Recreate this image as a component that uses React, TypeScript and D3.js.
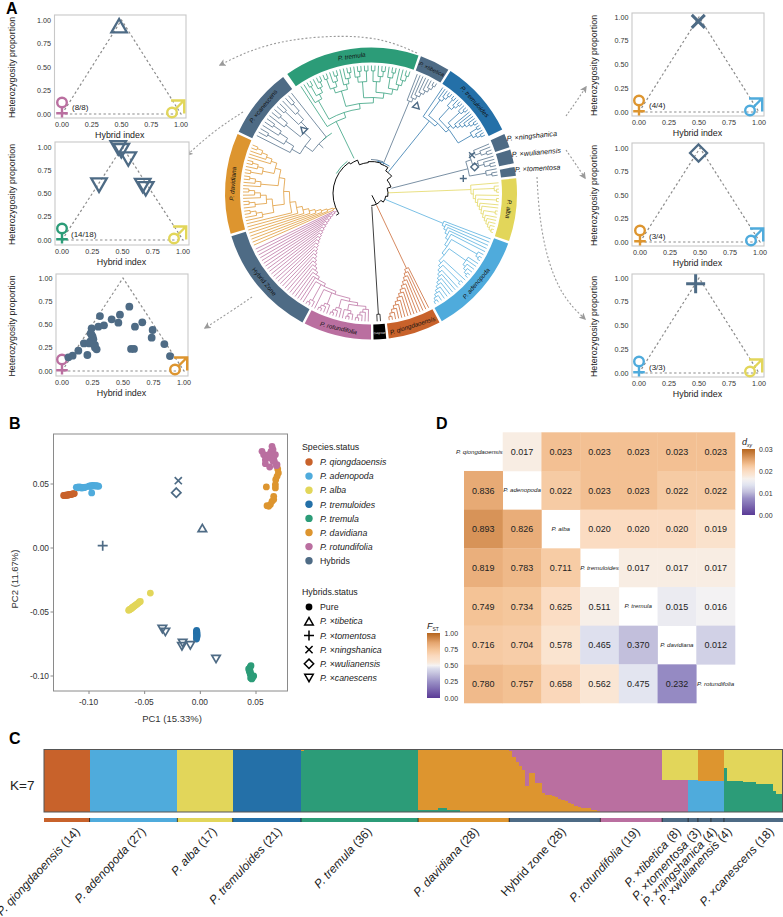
import React from "react";
import * as d3 from "d3";

const FONT = "'Liberation Sans', Arial, sans-serif";
const C = {
  qiong: "#c8622b", aden: "#4fabdc", alba: "#e2d65a", tmd: "#2470a8", tml: "#2c9c78",
  dav: "#dd952f", rot: "#ba6fa0", hyb: "#4e6b85", black: "#000000",
};
const DASH = "#8c8c8c";

/* ---------- Panel A triangle plots ---------- */
const triangleEdge = [[0, 0], [0.5, 1], [1, 0], [0, 0]];
const axisTicks = [0, 0.25, 0.5, 0.75, 1];
const hzPoints = [
  [.052,.147],[.087,.165],[.134,.219],[.18,.297],[.208,.172],[.23,.315],[.243,.459],[.243,.387],[.257,.341],[.27,.28],
  [.284,.233],[.224,.297],[.311,.591],[.298,.477],[.344,.491],[.407,.556],[.475,.606],[.462,.52],[.552,.692],[.598,.477],
  [.658,.523],[.743,.441],[.735,.358],[.566,.237],[.59,.237],[.839,.29],[.885,.161],[.251,.369],[.235,.405],[.27,.254],
];
const canescensPts = [[.465,.99],[.49,.96],[.548,.87],[.306,.59],[.667,.586],[.692,.55]];
const triPanels = [
  { fx: [54.5,186], fy: [15,118], x: [62,181], y: [114,20], fem: C.rot, male: C.alba, label: "(8/8)", lx: 72, ly: 110, kind: "up", pts: [[.48,.94]] },
  { fx: [55,189], fy: [142,245], x: [62,183], y: [240,147], fem: C.tml, male: C.alba, label: "(14/18)", lx: 71, ly: 237, kind: "down", pts: canescensPts },
  { fx: [56,188], fy: [274,376], x: [62,184], y: [371,278], fem: C.rot, male: C.dav, label: "", lx: 0, ly: 0, kind: "dot", pts: hzPoints },
  { fx: [632,764], fy: [13,116], x: [639,759], y: [112,17], fem: C.dav, male: C.aden, label: "(4/4)", lx: 649, ly: 108, kind: "cross", pts: [[.494,.954]] },
  { fx: [632,764], fy: [143,246], x: [640,760], y: [242,148], fem: C.dav, male: C.aden, label: "(3/4)", lx: 649, ly: 239, kind: "diamond", pts: [[.488,.947]] },
  { fx: [632,764], fy: [274,377], x: [639,759], y: [373,278], fem: C.aden, male: C.alba, label: "(3/3)", lx: 649, ly: 370, kind: "plus", pts: [[.472,.94]] },
];

/* ---------- Panel A tree ---------- */
const CX = 371, CY = 193.5, R_IN = 131, R_OUT = 146, TIP = 128;
const ringSegments = [
  { name: "P. tremula", a0: -35, a1: 19, color: C.tml, lr: 138.5, rot: 0 },
  { name: "P. ×tibetica", a0: 20, a1: 32, color: C.hyb, lr: 138.5, rot: 0, fs: 5.6 },
  { name: "P. tremuloides", a0: 33, a1: 64, color: C.tmd, lr: 138.5, rot: 0 },
  { name: "P. alba", a0: 84, a1: 109, color: C.alba, lr: 138.5, rot: 0 },
  { name: "P. adenopoda", a0: 110, a1: 151, color: C.aden, lr: 138.5, rot: 180 },
  { name: "P. qiongdaoensis", a0: 152, a1: 173, color: C.qiong, lr: 138.5, rot: 180 },
  { name: "Outgroup", a0: 174, a1: 179, color: C.black, lr: 138.5, rot: 180, fs: 2.8, fill: "#fff" },
  { name: "P. rotundifolia", a0: 180, a1: 207, color: C.rot, lr: 138.5, rot: 180 },
  { name: "Hybrid Zone", a0: 208, a1: 253, color: C.hyb, lr: 138.5, rot: 180 },
  { name: "P. davidiana", a0: 254, a1: 294, color: C.dav, lr: 138.5, rot: 0 },
  { name: "P. ×canescens", a0: 295, a1: 323, color: C.hyb, lr: 138.5, rot: 0 },
];
const ringBlocks = [
  { name: "P. ×ningshanica", a0: 66, a1: 71.5, lx: 507, ly: 141, rot: -6 },
  { name: "P. ×wulianensis", a0: 72.5, a1: 78, lx: 512, ly: 157, rot: -5 },
  { name: "P. ×tomentosa", a0: 79.5, a1: 83, lx: 515, ly: 172, rot: -3 },
];
const clades = [
  { color: C.tml, a0: -34, a1: 18.5, rootR: 80, stem: 39,
    tree: "(.((.((..)(.(..))))((((..)(.(..)))(.(.(..))))(((.(..))(..))(((..)(.(..)))((.(..))(.(.(..))))))))" },
  { color: C.hyb, a0: 20.5, a1: 31.5, rootR: 100, stem: 31, tree: "(.(.(.(.(.(.(..)))))))" },
  { color: C.tmd, a0: 33.5, a1: 63.5, rootR: 93, stem: 28, tree: "(.((.(.(..)))(((..)(.(..)))((.(..))(.(.(.(.(..))))))((..)(.(..))))))" },
  { color: C.hyb, a0: 66.5, a1: 82.5, rootR: 100, stem: 21, tree: "(((.(.(..)))(.(.(..))))(.(..)))" },
  { color: C.alba, a0: 84.5, a1: 108.5, rootR: 100, stem: 17, tree: "(.((.(..))(.((..)(.(.((..)(.(.(.(.(..))))))))))))" },
  { color: C.aden, a0: 110, a1: 150.5, rootR: 78, stem: 15, tree: "(.(.(.(.(.((.(..))((..(.(.(..))))(.((..)(.(.(.(.(.(.(.(..))))))))))))))))" },
  { color: C.qiong, a0: 152.5, a1: 172.5, rootR: 83, stem: 13, tree: "(.(.(.(.(.(.(.(.(.(.(.(.(..)))))))))))))" },
  { color: C.black, a0: 175, a1: 178, rootR: 121, stem: 13, tree: "(..)" },
  { color: C.rot, a0: 180.5, a1: 245, rootR: 41, stem: 38,
    tree: "((((((((((((((((((((((((((.(.(.(..))))((.(..)).))(.(.(..))))(.(.(..))).)(.(..)).)..).).).).).).).).).).).).).).).).).).).).).).).).)" },
  { color: C.dav, a0: 245.5, a1: 293, rootR: 41, stem: 38,
    tree: "(.(.(.(.(.(.(.(.(((.(.(..)))((.(..))(.(.(..)))))((.(.(..)))(((..)(.(..)))(.(.(.(..)))))))))))))))" },
  { color: C.hyb, a0: 296, a1: 322.5, rootR: 72, stem: 66, tree: "(((.((..)(.(..))))((.(..))((..)(.(..))))).)" },
];
const backboneChains = [
  [[153,2],[153,12],[178,12]],
  [[153,12],[125,12],[125,15],[100,15],[100,17],[72,17],[72,21],[50,21],[50,27],[33,27],[33,31],[18,31],[18,32],[-5,32],[-5,31],[-22,31],[-22,36],[-35,36],[-35,38],[-122,38],[-122,41]],
];
const accentArcs = [
  { color: C.tml, a0: -60, a1: -36, r: 40 },
  { color: C.hyb, a0: 0, a1: 21, r: 34 },
  { color: C.tmd, a0: 10, a1: 34, r: 33 },
  { color: C.tml, a0: -42, a1: -33, r: 72 },
];
const treeGlyphs = [
  { kind: "up", a: 27.3, r: 99.4, rot: 15 },
  { kind: "down", a: -47.2, r: 92, rot: 15 },
  { kind: "cross", a: 69.2, r: 108, rot: 0 },
  { kind: "diamond", a: 75.6, r: 107, rot: 0 },
  { kind: "plus", a: 80.8, r: 93.5, rot: 0 },
];
const flowArrows = [
  [[417,53],[385,39],[343,35],[290,39],[250,50],[220,65]],
  [[243,112],[215,130],[187,155]],
  [[252,297],[230,312],[205,328]],
  [[566,116],[576,102],[586,87]],
  [[566,150],[575,163],[585,178]],
  [[537,177],[539,215],[547,260],[563,298],[585,319]],
];

/* ---------- Panel B ---------- */
const pcaGroups = [
  { color: C.qiong, pts: [[-.1228,.041],[-.122,.0411],[-.1212,.0412],[-.1205,.0413],[-.12,.0412],[-.1192,.0415],[-.1185,.0414],[-.118,.0416],[-.1172,.0418],[-.1165,.0417],[-.1158,.042],[-.115,.0421],[-.114,.0424],[-.1132,.0425]] },
  { color: C.aden, pts: [[-.1114,.0474],[-.1105,.0476],[-.1098,.047],[-.109,.0478],[-.1082,.0472],[-.1075,.0475],[-.1068,.0468],[-.106,.0474],[-.1052,.047],[-.1045,.0472],[-.1038,.0474],[-.1032,.0476],[-.1003,.0482],[-.0995,.0486],[-.0988,.048],[-.098,.0488],[-.0972,.0484],[-.0965,.049],[-.0958,.0486],[-.095,.0488],[-.0942,.0484],[-.0935,.0488],[-.0928,.0484],[-.092,.0486],[-.0913,.0482],[-.0976,.043]] },
  { color: C.alba, pts: [[-.0644,-.0487],[-.0637,-.0482],[-.063,-.0478],[-.0623,-.0475],[-.0616,-.047],[-.061,-.0465],[-.0603,-.046],[-.0595,-.0456],[-.0588,-.045],[-.058,-.0446],[-.0572,-.044],[-.0565,-.0436],[-.0555,-.0428],[-.0547,-.0422],[-.0539,-.0417],[-.0449,-.0352]] },
  { color: C.tmd, pts: [[-.0033,-.0643],[-.0035,-.0652],[-.003,-.0658],[-.0036,-.0665],[-.0032,-.0672],[-.0028,-.0679],[-.0034,-.0686],[-.003,-.0693],[-.0033,-.07],[-.0035,-.0711]] },
  { color: C.tml, pts: [[.0455,-.0919],[.0448,-.0928],[.0434,-.0945],[.0445,-.0955],[.044,-.0965],[.0452,-.0975],[.0448,-.0985],[.0456,-.0995],[.0462,-.1005],[.0452,-.1015],[.047,-.1012],[.0479,-.1],[.0462,-.1023]] },
  { color: C.dav, pts: [[.0593,.0477],[.0614,.0326],[.0629,.0339],[.0644,.0365],[.0659,.0378],[.0659,.0404],[.0674,.0469],[.0674,.0495],[.0677,.0534],[.0689,.056],[.0701,.0586],[.0695,.0617],[.0599,.0331]] },
  { color: C.rot, pts: [[.0644,.0794],[.0653,.0768],[.0635,.0755],[.0554,.0755],[.0569,.0729],[.0599,.0721],[.0584,.069],[.0629,.0703],[.0659,.0703],[.0674,.0729],[.0665,.0677],[.0689,.0651],[.0584,.0659],[.0623,.0633],[.0683,.0643],[.0644,.0729],[.0653,.0677],[.0614,.0729]] },
];
const pcaHybrids = [
  { kind: "up", pts: [[.0018,.0156]] },
  { kind: "plus", pts: [[-.0877,.0018]] },
  { kind: "cross", pts: [[-.0198,.0526]] },
  { kind: "diamond", pts: [[-.0216,.0432]] },
  { kind: "down", pts: [[-.0341,-.0633],[-.0314,-.0656],[-.0159,-.0742],[-.0165,-.0768],[-.009,-.076],[.0141,-.0867]] },
];
const pcaXTicks = [-0.1, -0.05, 0, 0.05];
const pcaYTicks = [0.05, 0, -0.05, -0.1];
const speciesLegend = [
  ["P. qiongdaoensis", C.qiong], ["P. adenopoda", C.aden], ["P. alba", C.alba], ["P. tremuloides", C.tmd],
  ["P. tremula", C.tml], ["P. davidiana", C.dav], ["P. rotundifolia", C.rot], ["Hybrids", C.hyb],
];
const hybridLegend = [
  ["Pure", "dot"], ["P. ×tibetica", "up"], ["P. ×tomentosa", "plus"], ["P. ×ningshanica", "cross"], ["P. ×wulianensis", "diamond"], ["P. ×canescens", "down"],
];

/* ---------- Panel D ---------- */
const heatSpecies = ["P. qiongdaoensis", "P. adenopoda", "P. alba", "P. tremuloides", "P. tremula", "P. davidiana", "P. rotundifolia"];
const fstValues = [
  [], [.836], [.893,.826], [.819,.783,.711], [.749,.734,.625,.511], [.716,.704,.578,.465,.370], [.780,.757,.658,.562,.475,.232],
];
const dxyValues = [
  [.017,.023,.023,.023,.023,.023], [.022,.023,.023,.022,.022], [.020,.020,.020,.019], [.017,.017,.017], [.015,.016], [.012], [],
];
const ramp = ["#5a3a96", "#9a90c6", "#c2bfdc", "#dfe2ef", "#f5f3f3", "#f9ecdf", "#fbd9bd", "#f4c396", "#e5a670", "#b5651d"];
const fstColor = d3.scaleLinear<string>().domain([0, .25, .37, .47, .5, .52, .65, .75, .85, 1]).range(ramp);
const dxyColor = d3.scaleLinear<string>().domain([0, .0078, .0105, .0135, .0162, .0172, .0205, .0228, .025, .03]).range(ramp);
const fstTicks = [0, .25, .5, .75, 1];
const dxyTicks = [0, .01, .02, .03];

/* ---------- Panel C ---------- */
// each group: top cluster, bottom cluster, runs of [count, top-cluster fraction]
const admixGroups = [
  { label: "P. qiongdaoensis (14)", bar: C.qiong, top: C.qiong, bottom: C.qiong, end: 76, runs: [[14, 1]] },
  { label: "P. adenopoda (27)", bar: C.aden, top: C.aden, bottom: C.aden, end: 142, runs: [[27, 1]] },
  { label: "P. alba (17)", bar: C.alba, top: C.alba, bottom: C.alba, end: 213, runs: [[17, 1]] },
  { label: "P. tremuloides (21)", bar: C.tmd, top: C.tmd, bottom: C.tmd, end: 278, runs: [[21, 1]] },
  { label: "P. tremula (36)", bar: C.tml, top: C.dav, bottom: C.tml, end: 368, runs: [[1, .02], [35, 0]] },
  { label: "P. davidiana (28)", bar: C.dav, top: C.dav, bottom: C.tml, end: 475, runs: [[6, .96], [3, .94], [4, .97], [15, 1]] },
  { label: "Hybrid zone (28)", bar: C.hyb, top: C.rot, bottom: C.dav, end: 562,
    runs: [[1,.03],[1,.12],[1,.2],[1,.26],[1,.32],[1,.58],[1,.38],[1,.38],[1,.53],[1,.53],[1,.7],[1,.72],[1,.73],[1,.75],[1,.76],[1,.79],[1,.8],[1,.83],[1,.85],[1,.87],[1,.91],[1,.92],[1,.93],[1,.94],[1,.94],[1,.96],[1,.97],[1,.99]] },
  { label: "P. rotundifolia (19)", bar: C.rot, top: C.rot, bottom: C.rot, end: 636, runs: [[19, 1]] },
  { label: "P. ×tibetica (8)", bar: C.hyb, top: C.alba, bottom: C.rot, end: 677, runs: [[8, .48]] },
  { label: "P. ×tomentosa (3)", bar: C.hyb, top: C.alba, bottom: C.aden, end: 697, runs: [[3, .49]] },
  { label: "P. ×ningshanica (4)", bar: C.hyb, top: C.dav, bottom: C.aden, end: 713, runs: [[4, .51]] },
  { label: "P. ×wulianensis (4)", bar: C.hyb, top: C.dav, bottom: C.aden, end: 728, runs: [[4, .5]] },
  { label: "P. ×canescens (18)", bar: C.hyb, top: C.alba, bottom: C.tml, end: 770, runs: [[1,.29],[5,.5],[4,.52],[5,.555],[1,.67],[2,.71]] },
];

/* ---------- helpers ---------- */
const rad = (a: number) => (a * Math.PI) / 180;
const polar = (a: number, r: number): [number, number] => [CX + r * Math.sin(rad(a)), CY - r * Math.cos(rad(a))];

function parseTree(s: string) {
  const root: any = { children: [] };
  const stack = [root];
  for (const ch of s) {
    const top = stack[stack.length - 1];
    if (ch === "(") { const n = { children: [] }; top.children.push(n); stack.push(n); }
    else if (ch === ")") { if (stack.length > 1) stack.pop(); }
    else if (ch === ".") top.children.push({});
  }
  return root.children[0];
}

function cladePath(c: any) {
  const h = d3.hierarchy(parseTree(c.tree));
  const layout = d3.cluster<any>().size([c.a1 - c.a0, 1]).separation(() => 1);
  layout(h);
  const rOf = (n: any) => c.rootR + (TIP - c.rootR) * n.y;
  const aOf = (n: any) => c.a0 + n.x;
  const p = d3.path();
  const rootA = aOf(h);
  const [sx, sy] = polar(rootA, c.stem);
  const [ex, ey] = polar(rootA, c.rootR);
  p.moveTo(sx, sy); p.lineTo(ex, ey);
  h.descendants().forEach((n: any) => {
    if (!n.children) return;
    const r = rOf(n);
    const aa = n.children.map(aOf);
    const a0 = Math.min(...aa), a1 = Math.max(...aa);
    const [ax, ay] = polar(a0, r);
    p.moveTo(ax, ay);
    p.arc(CX, CY, r, rad(a0 - 90), rad(a1 - 90));
    n.children.forEach((k: any) => {
      const [x0, y0] = polar(aOf(k), r);
      const [x1, y1] = polar(aOf(k), rOf(k));
      p.moveTo(x0, y0); p.lineTo(x1, y1);
    });
  });
  return p.toString();
}

function chainPath(chain: number[][]) {
  const p = d3.path();
  chain.forEach(([a, r], i) => {
    const [x, y] = polar(a, r);
    if (i === 0) { p.moveTo(x, y); return; }
    const [pa, pr] = chain[i - 1];
    if (pr === r && pa !== a) p.arc(CX, CY, r, rad(pa - 90), rad(a - 90), a < pa);
    else p.lineTo(x, y);
  });
  return p.toString();
}

function marker(kind: string, s: number) {
  const p = d3.path();
  const h = s * 0.866;
  if (kind === "up") { p.moveTo(-s/2, h/2 ); p.lineTo(s/2, h/2); p.lineTo(0, -h/2); p.closePath(); }
  else if (kind === "down") { p.moveTo(-s/2, -h/2); p.lineTo(s/2, -h/2); p.lineTo(0, h/2); p.closePath(); }
  else if (kind === "plus") { p.moveTo(-s/2, 0); p.lineTo(s/2, 0); p.moveTo(0, -s/2); p.lineTo(0, s/2); }
  else if (kind === "cross") { const k = s * .42; p.moveTo(-k, -k); p.lineTo(k, k); p.moveTo(-k, k); p.lineTo(k, -k); }
  else if (kind === "diamond") { const k = s * .55; p.moveTo(0, -k); p.lineTo(k, 0); p.lineTo(0, k); p.lineTo(-k, 0); p.closePath(); }
  return p.toString();
}

function Sp({ text }: { text: string }) {
  if (!text.startsWith("P.")) return <>{text}</>;
  const m = text.split("×");
  const tail = (s: string) => {
    const i = s.indexOf(" (");
    return i < 0 ? <tspan fontStyle="italic">{s}</tspan> : <><tspan fontStyle="italic">{s.slice(0, i)}</tspan><tspan>{s.slice(i)}</tspan></>;
  };
  if (m.length === 1) return tail(text);
  return <><tspan fontStyle="italic">{m[0]}</tspan><tspan>×</tspan>{tail(m[1])}</>;
}

function Female({ x, y, color }: any) {
  return (
    <g fill="none" stroke={color} strokeWidth={2.4}>
      <circle cx={x} cy={y - 11.5} r={4.8} />
      <path d={`M${x},${y - 6.5}V${y + 3.5}M${x - 5.8},${y - 0.8}H${x + 5.8}`} />
    </g>
  );
}
function Male({ x, y, color }: any) {
  return (
    <g fill="none" stroke={color} strokeWidth={2.4}>
      <circle cx={x - 9} cy={y - 1.5} r={4.8} />
      <path d={`M${x - 5.5},${y - 5}L${x + 3},${y - 13.5}M${x - 10},${y - 13.5}H${x + 3.2}V${y - 0.5}`} />
    </g>
  );
}

function TriPanel({ p, left }: any) {
  const x = d3.scaleLinear().domain([0, 1]).range(p.x);
  const y = d3.scaleLinear().domain([0, 1]).range(p.y);
  const line = d3.line<number[]>().x((d) => x(d[0])).y((d) => y(d[1]));
  const labelX = left ? 15 : 597;
  const tickRight = p.fx[0] - 3.5;
  return (
    <g>
      <rect x={p.fx[0]} y={p.fy[0]} width={p.fx[1] - p.fx[0]} height={p.fy[1] - p.fy[0]} fill="#fff" stroke="#c8c8c8" strokeWidth={1.1} />
      <path d={line(triangleEdge as any)!} fill="none" stroke={DASH} strokeWidth={1.2} strokeDasharray="2.4 2.4" />
      {axisTicks.map((t) => (
        <g key={t} fontSize={7.2} fill="#333">
          <text x={x(t)} y={p.fy[1] + 8.8} textAnchor="middle">{t.toFixed(2)}</text>
          <text x={tickRight} y={y(t) + 2.5} textAnchor="end">{t.toFixed(2)}</text>
        </g>
      ))}
      <text x={(p.fx[0] + p.fx[1]) / 2 - 0.5} y={p.fy[1] + 19.5} textAnchor="middle" fontSize={8.9} fill="#222">Hybrid index</text>
      <text transform={`translate(${labelX},${(p.fy[0] + p.fy[1]) / 2 + 1}) rotate(-90)`} textAnchor="middle" fontSize={8.9} fill="#222">Heterozygosity proportion</text>
      <Female x={x(0)} y={y(0)} color={p.fem} />
      <Male x={x(1)} y={y(0)} color={p.male} />
      {p.label && <text x={p.lx} y={p.ly} fontSize={8} fill="#222">{p.label}</text>}
      {p.pts.map((d: number[], i: number) =>
        p.kind === "dot"
          ? <circle key={i} cx={x(d[0])} cy={y(d[1])} r={3.9} fill={C.hyb} />
          : <path key={i} transform={`translate(${x(d[0])},${y(d[1])})`} d={marker(p.kind, p.kind === "plus" ? 19 : 15.5)} fill="none" stroke={C.hyb} strokeWidth={p.kind === "plus" || p.kind === "cross" ? 3 : 2.3} strokeLinejoin="miter" />
      )}
    </g>
  );
}

function Tree() {
  const arc = d3.arc<any>();
  const seg = (a0: number, a1: number, r0 = R_IN, r1 = R_OUT) =>
    arc({ innerRadius: r0, outerRadius: r1, startAngle: rad(a0), endAngle: rad(a1) })!;
  const arrowLine = d3.line<number[]>().x((d) => d[0]).y((d) => d[1]).curve(d3.curveBasis);
  return (
    <g>
      <defs>
        <marker id="arrowHead" viewBox="0 0 10 10" refX="8" refY="5" markerWidth="7" markerHeight="7" markerUnits="userSpaceOnUse" orient="auto">
          <path d="M0,0L10,5L0,10L2.5,5Z" fill="#9a9a9a" />
        </marker>
      </defs>
      {flowArrows.map((a, i) => (
        <path key={i} d={arrowLine(a)!} fill="none" stroke="#9a9a9a" strokeWidth={1.1} strokeDasharray="2 2" markerEnd="url(#arrowHead)" />
      ))}
      {clades.map((c, i) => <path key={i} d={cladePath(c)} fill="none" stroke={c.color} strokeWidth={0.75} />)}
      {accentArcs.map((a, i) => {
        const p = d3.path();
        const [x, y] = polar(a.a0, a.r);
        p.moveTo(x, y); p.arc(CX, CY, a.r, rad(a.a0 - 90), rad(a.a1 - 90));
        return <path key={i} d={p.toString()} fill="none" stroke={a.color} strokeWidth={0.8} />;
      })}
      {backboneChains.map((b, i) => <path key={i} d={chainPath(b)} fill="none" stroke="#000" strokeWidth={0.95} />)}
      {ringSegments.map((s) => {
        const mid = (s.a0 + s.a1) / 2;
        const [x, y] = polar(mid, s.lr);
        const rot = mid + (s.rot || 0) - (s.rot ? 360 : 0);
        return (
          <g key={s.name}>
            <path transform={`translate(${CX},${CY})`} d={seg(s.a0, s.a1)} fill={s.color} />
            <text transform={`translate(${x},${y}) rotate(${rot})`} textAnchor="middle" dy={2.1} fontSize={s.fs || 6.3} fill={s.fill || "#111"}><Sp text={s.name} /></text>
          </g>
        );
      })}
      {ringBlocks.map((s) => (
        <g key={s.name}>
          <path transform={`translate(${CX},${CY})`} d={seg(s.a0, s.a1)} fill={C.hyb} />
          <text transform={`translate(${s.lx},${s.ly}) rotate(${s.rot})`} fontSize={7.2} fill="#111"><Sp text={s.name} /></text>
        </g>
      ))}
      {treeGlyphs.map((g, i) => {
        const [x, y] = polar(g.a, g.r);
        return <path key={i} transform={`translate(${x},${y}) rotate(${g.rot})`} d={marker(g.kind, 7)} fill="none" stroke={C.hyb} strokeWidth={1.4} />;
      })}
    </g>
  );
}

function PCA() {
  const x = d3.scaleLinear().domain([-0.1, 0.05]).range([89, 256]);
  const y = d3.scaleLinear().domain([0.05, -0.1]).range([484, 676]);
  return (
    <g>
      <rect x={53.5} y={434} width={234} height={257} fill="#fff" stroke="#8a8a8a" strokeWidth={1} />
      {pcaXTicks.map((t) => (
        <g key={t}>
          <path d={`M${x(t)},691V694`} stroke="#8a8a8a" />
          <text x={x(t) - 0.5} y={704.5} textAnchor="middle" fontSize={8.4} fill="#333">{t.toFixed(2)}</text>
        </g>
      ))}
      {pcaYTicks.map((t) => (
        <g key={t}>
          <path d={`M53.5,${y(t)}H50.5`} stroke="#8a8a8a" />
          <text x={49} y={y(t) + 3} textAnchor="end" fontSize={8.4} fill="#333">{t.toFixed(2)}</text>
        </g>
      ))}
      <text x={172} y={722} textAnchor="middle" fontSize={9.5} fill="#333">PC1 (15.33%)</text>
      <text transform="translate(18,579) rotate(-90)" textAnchor="middle" fontSize={9.5} fill="#333">PC2 (11.67%)</text>
      {pcaGroups.map((g, i) => g.pts.map((d, j) => <circle key={`${i}-${j}`} cx={x(d[0])} cy={y(d[1])} r={3.4} fill={g.color} />))}
      {pcaHybrids.map((g, i) => g.pts.map((d, j) => (
        <path key={`${i}-${j}`} transform={`translate(${x(d[0])},${y(d[1])})`} d={marker(g.kind, g.kind === "plus" ? 10 : 8.5)} fill="none" stroke={C.hyb} strokeWidth={1.7} />
      )))}
      <text x={302} y={450} fontSize={8.8} fill="#222">Species.status</text>
      {speciesLegend.map(([t, c], i) => (
        <g key={t}>
          <circle cx={309} cy={462 + i * 14.1} r={3.7} fill={c} />
          <text x={320} y={465.2 + i * 14.1} fontSize={8.8} fill="#222"><Sp text={t} /></text>
        </g>
      ))}
      <text x={302} y={595} fontSize={8.8} fill="#222">Hybrids.status</text>
      {hybridLegend.map(([t, k], i) => (
        <g key={t}>
          {k === "dot"
            ? <circle cx={309} cy={607 + i * 14.2} r={3.4} fill="#000" />
            : <path transform={`translate(309,${607 + i * 14.2})`} d={marker(k, k === "plus" ? 10 : 8.5)} fill="none" stroke="#000" strokeWidth={1.5} />}
          <text x={320} y={610.2 + i * 14.2} fontSize={8.8} fill="#222"><Sp text={t} /></text>
        </g>
      ))}
    </g>
  );
}

function Heat() {
  const x = d3.scaleBand<number>().domain(d3.range(7)).range([464, 735]);
  const y = d3.scaleBand<number>().domain(d3.range(7)).range([432.3, 703]);
  const cw = x.bandwidth() + 0.3, ch = y.bandwidth() + 0.3;
  const bar = (id: string, scale: any, dom: number) => (
    <linearGradient id={id} x1="0" y1="1" x2="0" y2="0">
      {d3.range(0, 1.001, 0.05).map((t) => <stop key={t} offset={t} stopColor={scale(t * dom)} />)}
    </linearGradient>
  );
  const dxyY = d3.scaleLinear().domain([0, .03]).range([515, 449]);
  const fstY = d3.scaleLinear().domain([0, 1]).range([698, 633]);
  return (
    <g>
      <defs>{bar("gd", dxyColor, .03)}{bar("gf", fstColor, 1)}</defs>
      {fstValues.map((row, r) => row.map((v, c) => (
        <g key={`f${r}-${c}`}>
          <rect x={x(c)} y={y(r)} width={cw} height={ch} fill={fstColor(v)} />
          <text x={x(c)! + x.bandwidth() / 2} y={y(r)! + y.bandwidth() / 2 + 3.2} textAnchor="middle" fontSize={9} fill="#222">{v.toFixed(3)}</text>
        </g>
      )))}
      {dxyValues.map((row, r) => row.map((v, k) => {
        const c = r + 1 + k;
        return (
          <g key={`d${r}-${c}`}>
            <rect x={x(c)} y={y(r)} width={cw} height={ch} fill={dxyColor(v)} />
            <text x={x(c)! + x.bandwidth() / 2} y={y(r)! + y.bandwidth() / 2 + 3.2} textAnchor="middle" fontSize={9} fill="#222">{v.toFixed(3)}</text>
          </g>
        );
      }))}
      {heatSpecies.map((s, i) => (
        <text key={s} x={x(i)! + x.bandwidth() / 2 - (i === 0 ? 4 : 0)} y={y(i)! + y.bandwidth() / 2 + 2} textAnchor="middle" fontSize={6.2} fill="#222"><Sp text={s} /></text>
      ))}
      <rect x={742} y={449} width={13} height={66} fill="url(#gd)" />
      {dxyTicks.map((t) => <text key={t} x={759} y={dxyY(t) + 2.5} fontSize={7} fill="#333">{t.toFixed(2)}</text>)}
      <text x={742} y={445} fontSize={9} fill="#222" fontStyle="italic">d<tspan fontSize={5} dy={2}>xy</tspan></text>
      <rect x={427} y={633} width={13} height={65} fill="url(#gf)" />
      {fstTicks.map((t) => <text key={t} x={444.5} y={fstY(t) + 2.5} fontSize={7} fill="#333">{t.toFixed(2)}</text>)}
      <text x={427} y={629} fontSize={9} fill="#222" fontStyle="italic">F<tspan fontSize={5} dy={2} fontStyle="normal">ST</tspan></text>
    </g>
  );
}

function Admix() {
  const total = d3.sum(admixGroups, (g) => d3.sum(g.runs, (r) => r[0]));
  const x = d3.scaleLinear().domain([0, total]).range([44, 782.5]);
  const y = d3.scaleLinear().domain([0, 1]).range([749.5, 812]);
  let idx = 0;
  const bars: any[] = [];
  const bounds: number[] = [];
  admixGroups.forEach((g, gi) => {
    const start = idx;
    g.runs.forEach(([n, f]) => {
      const x0 = x(idx), x1 = x(idx + n);
      bars.push(<rect key={`t${idx}`} x={x0} y={y(0)} width={x1 - x0} height={y(f) - y(0)} fill={g.top} />);
      bars.push(<rect key={`b${idx}`} x={x0} y={y(f)} width={x1 - x0} height={y(1) - y(f)} fill={g.bottom} />);
      idx += n;
    });
    bars.push(<rect key={`s${gi}`} x={x(start)} y={818} width={x(idx) - x(start)} height={4} fill={g.bar} />);
    bounds.push(x(idx));
  });
  return (
    <g>
      <g shapeRendering="crispEdges">{bars}</g>
      {bounds.slice(0, -1).map((b, i) => <path key={i} d={`M${b},818V822`} stroke="#222" strokeWidth={0.8} />)}
      <rect x={44} y={749.5} width={738.5} height={62.5} fill="none" stroke="#555" strokeWidth={1} />
      <text x={10} y={790} fontSize={13.5} fill="#222">K=7</text>
      {admixGroups.map((g) => (
        <text key={g.label} transform={`translate(${g.end},828) rotate(-47)`} textAnchor="end" dy={6} fontSize={12} fill="#222"><Sp text={g.label} /></text>
      ))}
    </g>
  );
}

export default function App() {
  return (
    <svg width={783} height={917} viewBox="0 0 783 917" style={{ position: "absolute", left: 0, top: 0, background: "#fff" }} fontFamily={FONT}>
      <Tree />
      {triPanels.map((p, i) => <TriPanel key={i} p={p} left={i < 3} />)}
      <PCA />
      <Heat />
      <Admix />
      {[["A", 6, 14], ["B", 9, 429], ["C", 9, 744], ["D", 436, 429]].map(([t, x, y]) => (
        <text key={t as string} x={x as number} y={y as number} fontSize={16} fontWeight="bold" fill="#000">{t}</text>
      ))}
    </svg>
  );
}
